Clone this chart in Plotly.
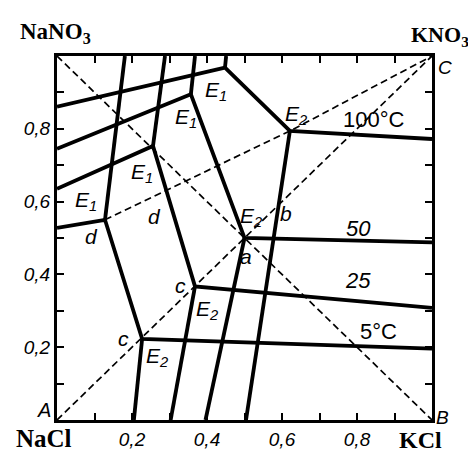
import plotly.graph_objects as go

# Isotherm vertices (x = KCl/K fraction, y = NaNO3/NO3 fraction)
temps = ["5", "25", "50", "100"]
left_y = [0.528, 0.635, 0.745, 0.861]            # on NaCl–NaNO3 side (x=0)
e1_x = [0.128, 0.256, 0.357, 0.448]
e1_y = [0.550, 0.753, 0.895, 0.968]
top_x = [0.181, 0.288, 0.368, 0.451]             # on NaNO3–KNO3 side (y=1)
e2_x = [0.227, 0.368, 0.500, 0.621]
e2_y = [0.223, 0.367, 0.500, 0.794]
bottom_x = [0.205, 0.303, 0.396, 0.504]          # on NaCl–KCl side (y=0)
right_y = [0.196, 0.308, 0.488, 0.772]           # on KCl–KNO3 side (x=1)

# Section (dashed) lines
diag1_x = [0, 1]; diag1_y = [0, 1]               # A -> C
diag2_x = [0, 1]; diag2_y = [1, 0]               # NaNO3 -> B
sec_x = [e1_x[0], e2_x[3], 1]; sec_y = [e1_y[0], e2_y[3], 1]   # d -> C

tick_vals = [0.2, 0.4, 0.6, 0.8]
tick_text = ["0,2", "0,4", "0,6", "0,8"]

fig = go.Figure()
for d in [(diag1_x, diag1_y), (diag2_x, diag2_y), (sec_x, sec_y)]:
    fig.add_trace(go.Scatter(x=d[0], y=d[1], mode="lines",
                             line=dict(color="black", width=1.7, dash="7px,4px"),
                             hoverinfo="skip", showlegend=False))

for i in range(len(temps)):
    xs = [0, e1_x[i], e2_x[i], 1, None, top_x[i], e1_x[i], None, e2_x[i], bottom_x[i]]
    ys = [left_y[i], e1_y[i], e2_y[i], right_y[i], None, 1, e1_y[i], None, e2_y[i], 0]
    fig.add_trace(go.Scatter(x=xs, y=ys, mode="lines",
                             line=dict(color="black", width=3.8),
                             hoverinfo="skip", showlegend=False, name=temps[i] + "°C"))

ann = []
def lab(x, y, t, size=17, fam="Liberation Sans", italic=True, ref="x"):
    ann.append(dict(x=x, y=y, xref="paper" if ref == "paper" else "x",
                    yref="paper" if ref == "paper" else "y",
                    xanchor="center", yanchor="middle",
                    text=t, showarrow=False,
                    font=dict(family=fam, size=size, color="black",
                              style="italic" if italic else "normal")))

E1 = "E<sub>1</sub>"; E2 = "E<sub>2</sub>"
for (x, y) in [(0.077, 0.603), (0.226, 0.678), (0.343, 0.831), (0.423, 0.903)]:
    lab(x, y, E1, 21)
for (x, y) in [(0.637, 0.839), (0.517, 0.557), (0.399, 0.303), (0.266, 0.174)]:
    lab(x, y, E2, 21)
lab(0.091, 0.504, "d", 21); lab(0.261, 0.558, "d", 21)
lab(0.328, 0.370, "c", 21); lab(0.176, 0.225, "c", 21)
lab(0.504, 0.450, "a", 21); lab(0.611, 0.566, "b", 21)
lab(-0.035, 0.027, "A", 20, ref="paper")
lab(1.028, 0.008, "B", 19, ref="paper")
lab(1.035, 0.968, "C", 19, ref="paper")
lab(0.845, 0.826, "100°C", 22, italic=False)
lab(0.803, 0.525, "50", 22)
lab(0.803, 0.383, "25", 22)
lab(0.856, 0.244, "5°C", 22, italic=False)
serif = "Liberation Serif"
lab(-0.005, 1.062, "<b>NaNO<sub>3</sub></b>", 23, serif, False, "paper")
lab(1.021, 1.056, "<b>KNO<sub>3</sub></b>", 22, serif, False, "paper")
lab(-0.035, -0.051, "<b>NaCl</b>", 25, serif, False, "paper")
lab(0.970, -0.056, "<b>KCl</b>", 24, serif, False, "paper")

axis = dict(range=[0, 1], showgrid=False, zeroline=False, showline=True,
            linecolor="black", linewidth=3, mirror="ticks",
            ticks="inside", ticklen=7, tickwidth=1.5, tickcolor="black",
            tickvals=tick_vals, ticktext=tick_text,
            tickfont=dict(family="Liberation Sans", size=19, color="black", style="italic"),
            minor=dict(tickvals=[0.1, 0.3, 0.5, 0.7, 0.9], ticks="inside",
                       ticklen=7, tickwidth=1.5, tickcolor="black"),
            fixedrange=True)

fig.update_layout(width=476, height=454, margin=dict(l=49, r=52, t=48, b=33),
                  plot_bgcolor="white", paper_bgcolor="white",
                  xaxis=axis, yaxis=axis, annotations=ann, showlegend=False)
fig.write_html("out.html")
